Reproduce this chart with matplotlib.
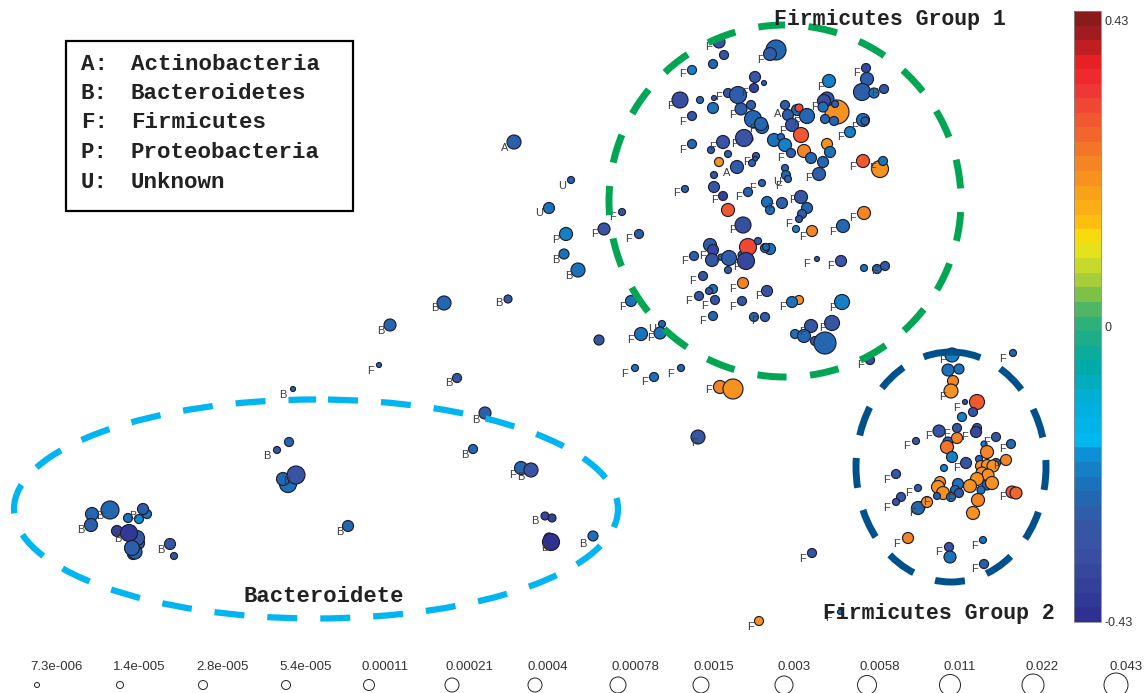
import matplotlib
matplotlib.use('Agg')
import matplotlib.pyplot as plt
from matplotlib.colors import LinearSegmentedColormap, Normalize
from matplotlib.cm import ScalarMappable
from matplotlib.patches import Ellipse, Rectangle

# bubbles, upper group (pixel position, radius, colour value)
g1_x = [719,724,713,692,776,770,755,754,764,829,866,867,862,874,884,
        680,700,714,713,728,738,741,751,692,753,762,761,750,744,723,
        692,711,728,719,737,756,755,752,714,685,714,723,748,762,785,
        786,788,785,797,799,788,807,792,801,774,781,785,791,804,811,
        823,819,827,830,837,827,824,823,835,825,834,863,865,850,863,
        880,883,801,782,767,770,807,802,799,622,604,639,728,743,796,
        812,843,864,710,713,712,694,721,729,742,748,758,746,728,770,
        765,766,817,841,864,877,885,703,743,713,709,699,715,742,767,
        799,792,842,631,713,754,765,832,811,795,804,815,825,662,660,
        641,599,635,654,681,720,733,870,698,812,759,840]
g1_y = [42,55,64,70,50,54,77,88,83,81,68,79,92,93,89,
        100,100,98,108,93,95,109,105,116,119,127,124,139,138,142,
        144,150,154,162,167,156,159,163,175,189,187,196,192,183,168,
        175,179,105,110,108,115,116,125,135,140,137,145,153,151,158,
        162,174,144,152,112,99,101,107,104,119,121,120,121,132,161,
        169,161,197,203,202,210,208,214,219,212,229,234,210,225,229,
        231,226,213,245,250,260,256,257,258,255,247,241,261,270,249,
        248,247,259,261,268,269,266,276,283,289,291,296,300,301,291,
        300,302,302,301,316,317,317,323,326,334,336,341,343,324,333,
        334,340,368,377,368,387,389,360,437,553,621,612]
g1_r = [6,4.5,4.5,4.5,10,6.5,5.5,4.5,2.5,6.5,4.5,6.5,8.5,5,4.5,
        8,3.5,2.5,5.5,4.5,8.5,6,4.5,4.5,8.5,6.5,6.5,3,8.5,6.5,
        4.5,3.5,3.5,4.5,6.5,3.5,2.5,3.5,3.5,3.5,5.5,4.5,4.5,3.5,3.5,
        4.5,3.5,4.5,5.5,4,5.5,7.5,6.5,7.5,6.5,3.5,6.5,4.5,6.5,5.5,
        5.5,6.5,5.5,5.5,12,7,6.5,5,3.5,4.5,4.5,6.5,4,5.5,6.5,
        8.5,4.5,6.5,5.5,5.5,4.5,5.5,4.5,3.5,3.5,6,4.5,6.5,8,3.5,
        5.5,6.5,6.5,6.5,5.5,6.5,4.5,3,7.5,4,8.5,3.5,8.5,3.5,5.5,
        4.5,3.5,2.5,5.5,3.5,4.5,4.5,4.5,5.5,4.5,3.5,4.5,4.5,4.5,5.5,
        4.5,5.5,7.5,5.5,4.5,4.5,4.5,7.5,6.5,4.5,6.5,4.5,11,3.5,6,
        6.5,5,3.5,4.5,3.5,6.5,10,4.5,7,4.5,4.5,2.5]
g1_v = [-.32,-.3,-.25,-.21,-.25,-.27,-.3,-.38,-.25,-.21,-.35,-.28,-.27,-.24,-.3,
        -.33,-.26,-.28,-.24,-.3,-.27,-.28,-.28,-.3,-.25,-.24,-.25,-.3,-.32,-.32,
        -.25,-.27,-.28,.2,-.27,-.28,-.28,-.25,-.3,-.28,-.3,-.38,-.26,-.27,-.26,
        -.25,-.26,-.28,-.24,.3,-.27,-.25,-.3,.27,-.24,-.25,-.21,-.28,.21,-.25,
        -.25,-.28,.19,-.24,.185,-.3,-.33,-.24,-.27,-.25,-.25,-.24,-.28,-.21,.28,
        .185,-.24,-.3,-.28,-.24,-.24,-.26,-.28,-.3,-.3,-.32,-.28,.27,-.33,-.21,
        .22,-.25,.21,-.28,-.36,-.3,-.28,-.21,-.27,-.24,.3,-.27,-.35,-.27,-.24,
        -.24,-.25,-.28,-.32,-.24,-.25,-.3,-.3,.22,-.24,-.3,-.3,-.3,-.3,-.3,
        .19,-.24,-.21,-.24,-.25,-.25,-.27,-.3,-.3,-.24,-.26,-.3,-.26,-.25,-.24,
        -.24,-.3,-.24,-.24,-.25,.21,.2,-.33,-.3,-.3,.2,-.24]

# lower right group
g2_x = [1013,952,948,959,953,951,965,977,973,962,939,957,977,976,948,
        957,947,916,996,1011,984,987,952,979,1006,966,944,996,981,987,
        993,982,988,977,896,940,938,943,918,901,896,958,955,959,951,
        937,970,987,992,981,978,973,1012,1016,921,918,927,908,949,950,
        983,984]
g2_y = [353,355,370,369,381,391,402,402,412,417,431,428,428,432,442,
        438,447,441,437,444,444,452,457,459,460,463,468,463,466,465,
        466,473,475,479,474,482,487,493,488,497,502,484,490,493,497,
        496,486,485,483,490,500,513,492,493,506,508,502,538,547,557,
        540,564]
g2_r = [3.5,7,6,5,5.5,7,2.5,7.5,4.5,4.5,6,4.5,4.5,5.5,5,
        5.5,6.5,3.5,4.5,4.5,3,6.5,5.5,3.5,5.5,5.5,3.5,4.5,5.5,5.5,
        6,6,6,6.5,4.5,5.5,6.5,6.5,3.5,4.5,3.5,5.5,4.5,4.5,4.5,
        3.5,6.5,5,6.5,4,6.5,6.5,6,6,4.5,6.5,5.5,5.5,4.5,6,
        3.5,4.5]
g2_v = [-.25,-.21,-.24,-.24,.21,.19,-.3,.28,-.3,-.21,-.3,-.3,-.3,-.36,-.25,
        .22,.23,-.3,-.3,-.25,-.21,.22,-.21,-.25,.22,-.3,-.21,-.24,.185,.185,
        .185,.19,.19,.2,-.3,.19,.2,.2,-.27,-.3,-.3,-.24,-.26,-.3,-.24,
        -.27,.2,-.25,.185,-.24,.22,.185,.28,.26,-.27,-.25,.2,.22,-.32,-.24,
        -.24,-.28]

# left side and Bacteroidete group
g3_x = [514,571,549,566,564,578,444,508,390,379,457,293,485,473,289,
        277,288,283,296,348,110,92,91,147,143,128,139,117,138,137,
        129,133,135,132,170,174,521,531,545,552,549,551,593]
g3_y = [142,180,208,234,254,270,303,299,325,365,378,389,413,449,442,
        450,484,479,475,526,510,514,525,514,509,518,519,531,543,538,
        533,554,552,548,544,556,468,470,516,518,538,542,536]
g3_r = [7,3.5,5.5,6.5,5,7,7,4,6,2.5,4.5,2.5,6,4.5,4.5,
        3.5,8.5,6.5,9,5.5,9,6.5,6.5,4.5,5.5,4.5,4.5,5.5,6.5,7.5,
        8.5,5.5,7,7.5,5.5,3.5,6.5,7,4,4,5,8.5,5]
g3_v = [-.27,-.28,-.24,-.21,-.24,-.24,-.26,-.3,-.26,-.28,-.3,-.28,-.28,-.26,-.26,
        -.3,-.24,-.26,-.32,-.26,-.25,-.26,-.28,-.24,-.27,-.24,-.2,-.37,-.3,-.29,
        -.39,-.25,-.26,-.27,-.3,-.3,-.25,-.32,-.35,-.38,-.4,-.42,-.24]

# phylum letters next to the bubbles
a_x = [505,778,727]
a_y = [148,114,173]
u_x = [562,539,777,652]
u_y = [186,213,182,329]
p_x = [556]
p_y = [240]
b_x = [556,569,435,499,381,449,283,476,465,267,287,340,81,100,133,118,161,521,535,545,583]
b_y = [260,276,308,303,331,383,395,420,455,456,481,532,530,516,516,539,550,477,521,548,544]
f_x = [708,682,761,857,820,874,670,718,745,682,732,814,797,752,783,854,841,734,712,682,781,747,853,873,809,778,752,676,739,714,792,
       771,612,788,853,733,833,803,629,703,684,719,736,807,831,874,693,732,758,689,705,732,782,832,622,702,754,802,822,631,650,861,
       625,644,671,709,594,
       1003,943,943,956,929,947,964,906,986,1002,956,996,887,908,950,1003,886,927,912,897,939,974,974,
       370,694,803,751,829,513]
f_y = [47,74,60,73,87,93,106,97,93,122,115,107,122,129,131,127,137,144,147,150,158,162,167,168,178,186,188,193,197,200,200,
       208,217,224,218,230,232,237,239,256,261,261,267,264,266,271,281,289,296,301,306,307,307,308,307,321,321,332,328,340,338,365,
       374,382,374,390,234,
       359,360,397,408,436,434,437,446,442,449,468,466,480,493,499,497,508,502,513,544,552,546,569,
       371,443,559,627,618,475]

legend_keys = ['A:', 'B:', 'F:', 'P:', 'U:']
legend_names = ['Actinobacteria', 'Bacteroidetes', 'Firmicutes', 'Proteobacteria', 'Unknown']

size_labels = ['7.3e-006','1.4e-005','2.8e-005','5.4e-005','0.00011','0.00021','0.0004',
               '0.00078','0.0015','0.003','0.0058','0.011','0.022','0.043']
size_r = [2.5,3.5,4.5,4.5,5.5,7,7,8,8,9,9.5,10.5,11,12]

cbar_pos = [-.43,-.39,-.33,-.30,-.28,-.244,-.22,-.2,-.18,-.12,-.07,0,.03,.06,.085,.106,.13,.198,.28,.33,.364,.40,.43]
cbar_col = ['#2E3192','#33409A','#3A53A4','#3458A3','#2C5FAA','#1C70B9','#1680C4','#0C8FD5','#00B7F1','#00AFD8','#00AAA5','#35B172',
            '#7CBF4A','#B3D334','#D8DE24','#F2E90F','#FFC20E','#F7931E','#F15A2F','#EE3338','#ED2024','#A81E22','#8B1A1A']

rad = lambda r: [(2 * i * 0.72) ** 2 for i in r]

fig = plt.figure(figsize=(11.44, 6.93), dpi=100)
ax = fig.add_axes([0, 0, 1, 1])
ax.set_xlim(0, 1144)
ax.set_ylim(693, 0)
ax.axis('off')

vmin, vmax = -0.43, 0.43
norm = Normalize(vmin, vmax)
stops = [(p - vmin) / (vmax - vmin) for p in cbar_pos]
cmap = LinearSegmentedColormap.from_list('bar', list(zip(stops, cbar_col)), N=42)

for xs, ys, rs, vs in [(g3_x, g3_y, g3_r, g3_v), (g1_x, g1_y, g1_r, g1_v), (g2_x, g2_y, g2_r, g2_v)]:
    ax.scatter(xs, ys, s=rad(rs), c=vs, cmap=cmap, norm=norm, edgecolors='#1d1d33', linewidths=0.85, zorder=2)

for t, xs, ys in [('A', a_x, a_y), ('U', u_x, u_y), ('P', p_x, p_y), ('B', b_x, b_y), ('F', f_x, f_y)]:
    for x, y in zip(xs, ys):
        ax.text(x, y, t, fontsize=8, family='Liberation Sans', color='#3c3c3c', ha='center', va='center', zorder=3)

# dashed group outlines
ax.add_patch(Ellipse((785, 201), 352, 352, fill=False, ec='#00A651', lw=5, ls=(4.2, (4.2, 3.4)), capstyle='butt', zorder=4))
ax.add_patch(Ellipse((951, 467), 190, 230, fill=False, ec='#00508C', lw=5, ls=(0, (4.32, 3.28)), capstyle='butt', zorder=5))
ax.add_patch(Ellipse((316, 509), 604, 219, fill=False, ec='#00B5F0', lw=4.5, ls=(6.56, (4.8, 3.68)), capstyle='butt', zorder=4))

# legend box
ax.add_patch(Rectangle((66, 41), 287, 170, fill=False, ec='black', lw=1.6, zorder=5))
for i in range(len(legend_keys)):
    y = 64 + i * 29.5
    ax.text(81, y, legend_keys[i], family='Liberation Mono', weight='bold', fontsize=16.2, color='#222222', va='center')
    ax.text(131, y, legend_names[i], family='Liberation Mono', weight='bold', fontsize=16.2, color='#222222', va='center')

ax.text(890, 19, 'Firmicutes Group 1', family='Liberation Mono', weight='bold', fontsize=15.5, color='#222222', ha='center', va='center', zorder=6)
ax.text(939, 613, 'Firmicutes Group 2', family='Liberation Mono', weight='bold', fontsize=15.5, color='#222222', ha='center', va='center', zorder=6)
ax.text(324, 596, 'Bacteroidete', family='Liberation Mono', weight='bold', fontsize=16, color='#222222', ha='center', va='center', zorder=6)

# size key along the bottom
key_x = [37 + i * 83 for i in range(len(size_labels))]
for i in range(len(size_labels)):
    ax.text(key_x[i] - 7, 667, size_labels[i], family='Liberation Sans', fontsize=9.5, color='#333333', ha='left', va='center')
ax.scatter(key_x, [685] * len(key_x), s=rad(size_r), facecolors='white', edgecolors='#222222', linewidths=0.7, clip_on=False)

cax = fig.add_axes([1074 / 1144, 1 - 622 / 693, 27 / 1144, 611 / 693])
cb = fig.colorbar(ScalarMappable(norm=norm, cmap=cmap), cax=cax)
cb.set_ticks([0.417, -0.0134, -0.43], labels=['0.43', '0', '-0.43'])
cb.ax.tick_params(length=0, pad=2.5, labelsize=9, labelcolor='#333333')
for t in cb.ax.get_yticklabels():
    t.set_family('Liberation Sans')
cb.outline.set_edgecolor('#888888')
cb.outline.set_linewidth(0.6)

fig.savefig('out.png', dpi=100)
